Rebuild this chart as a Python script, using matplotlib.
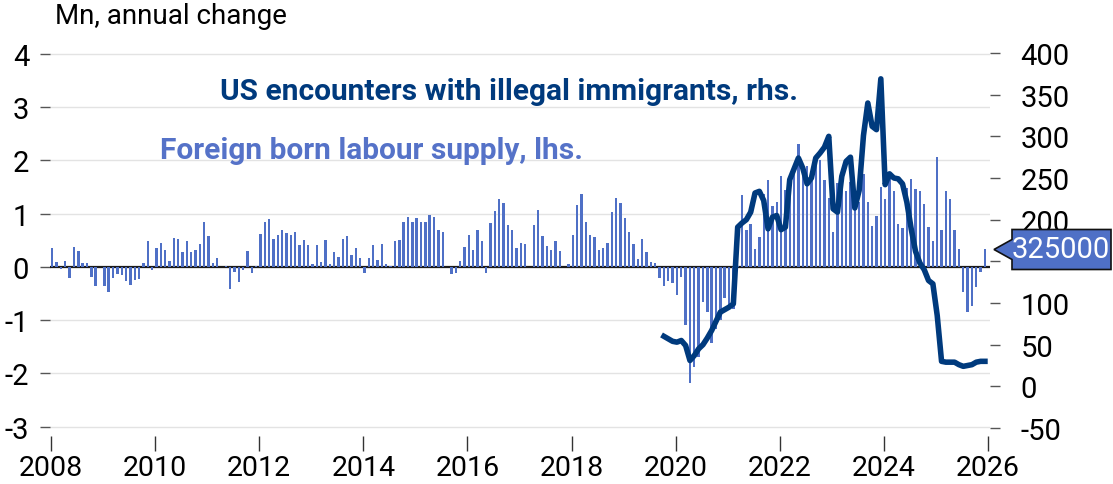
import matplotlib
matplotlib.use("Agg")
import matplotlib.pyplot as plt
from matplotlib.patches import Polygon
import numpy as np

plt.rcParams["font.family"] = ["Roboto", "DejaVu Sans"]

# foreign born labour supply, annual change in Mn, monthly Jan 2008 - Dec 2025
start_year = 2008
labour_supply = [
    0.36, 0.09, -0.04, 0.11, -0.21, 0.38, 0.30, 0.07, 0.08, -0.19, -0.36, -0.01,   # 2008
    -0.36, -0.47, -0.21, -0.14, -0.15, -0.26, -0.35, -0.24, -0.23, 0.08, 0.49, -0.06,  # 2009
    0.36, 0.45, 0.31, 0.11, 0.55, 0.53, 0.28, 0.48, 0.28, 0.31, 0.42, 0.85,   # 2010
    0.57, 0.08, 0.16, 0.00, 0.02, -0.41, -0.09, -0.28, -0.06, 0.30, -0.11, 0.02,  # 2011
    0.62, 0.84, 0.90, 0.52, 0.60, 0.70, 0.64, 0.60, 0.65, 0.40, 0.50, 0.40,   # 2012
    0.06, 0.40, 0.09, 0.50, 0.06, 0.28, 0.18, 0.52, 0.58, 0.22, 0.35, 0.16,   # 2013
    -0.12, 0.16, 0.40, 0.13, 0.42, 0.06, 0.01, 0.49, 0.51, 0.84, 0.94, 0.84,  # 2014
    0.92, 0.84, 0.84, 0.97, 0.93, 0.70, 0.65, 0.00, -0.13, -0.12, 0.11, 0.38,  # 2015
    0.59, 0.31, 0.69, 0.48, -0.11, 0.83, 1.04, 1.27, 1.20, 0.78, 0.70, 0.36,  # 2016
    0.45, 0.43, 0.00, 0.79, 1.06, 0.58, 0.39, 0.32, 0.48, 0.30, 0.00, 0.05,   # 2017
    0.60, 1.16, 1.37, 0.85, 0.59, 0.56, 0.31, 0.36, 0.45, 1.03, 1.30, 1.20,   # 2018
    0.91, 0.65, 0.43, 0.15, 0.53, 0.28, 0.09, 0.07, -0.21, -0.36, -0.27, -0.30,  # 2019
    -0.52, -0.19, -1.10, -2.18, -1.88, -1.70, -0.66, -0.85, -1.43, -1.16, -1.00, -0.58,  # 2020
    -0.77, -0.79, 0.02, 1.35, 0.69, 0.81, 0.34, 0.56, 1.37, 1.63, 1.15, 1.21,  # 2021
    1.70, 1.45, 1.35, 1.85, 2.30, 1.92, 1.90, 1.65, 2.05, 2.00, 1.63, 1.30,   # 2022
    0.66, 1.58, 1.67, 1.43, 1.60, 1.14, 1.21, 1.74, 1.21, 0.77, 0.95, 1.50,   # 2023
    1.28, 1.68, 1.43, 0.80, 0.72, 1.48, 1.65, 1.46, 1.43, 1.18, 0.74, 0.48,   # 2024
    2.06, 0.70, 1.42, 1.27, 0.70, 0.33, -0.48, -0.84, -0.73, -0.38, -0.09, 0.325,  # 2025
]

# US encounters with illegal immigrants, thousands, monthly Oct 2019 - Dec 2025
enc_start = 141  # months after Jan 2008
encounters = [
    60, 57, 54,                                                 # 2019
    53, 55, 49, 31, 37, 45, 50, 58, 67, 78, 89, 92,             # 2020
    95, 99, 191, 196, 200, 209, 232, 234, 223, 189, 203, 205,   # 2021
    188, 191, 248, 261, 274, 262, 243, 250, 274, 280, 287, 300, # 2022
    213, 209, 252, 270, 275, 214, 235, 301, 340, 312, 308, 369, # 2023
    242, 255, 250, 249, 243, 221, 189, 162, 148, 140, 127, 123, # 2024
    85, 30, 29, 29, 29, 26, 24, 25, 26, 29, 30, 30,             # 2025
]

last_label = "325000"
year_ticks = list(range(2008, 2027, 2))
left_ticks = list(range(-3, 5))
right_ticks = list(range(-50, 401, 50))
# the 150 label sits under the value tag in the original
right_labels = ["" if t == 150 else str(t) for t in right_ticks]

BAR = "#4f70c6"
NAVY = "#003a7d"

W, H = 1113, 485
fig = plt.figure(figsize=(W / 100, H / 100), dpi=100)
ax_l, ax_r, ax_t, ax_b = 50, 990, 48, 437
ax = fig.add_axes([ax_l / W, 1 - ax_b / H, (ax_r - ax_l) / W, (ax_b - ax_t) / H])
ax2 = ax.twinx()

x_bar = start_year + (np.arange(len(labour_supply)) + 0.3) / 12
x_enc = start_year + (np.arange(len(encounters)) + enc_start + 0.3) / 12

ax.bar(x_bar, labour_supply, width=0.55 / 12, color=BAR, zorder=3)
ax.axhline(0, color="#1a1a1a", lw=1.6, zorder=2)
ax2.plot(x_enc, encounters, color=NAVY, lw=4.0, solid_joinstyle="round", zorder=4)

ax.set_xlim(2007.981, 2026.039)
ax.set_ylim(-3.174, 4.124)
ax2.set_ylim(-59.6, 407.2)

ax.set_yticks(left_ticks)
ax.set_yticklabels([str(t) for t in left_ticks])
ax2.set_yticks(right_ticks)
ax2.set_yticklabels(right_labels)
ax.set_xticks(year_ticks)
ax.set_xticklabels([str(t) for t in year_ticks], fontsize=20.5)

ax.grid(axis="y", color="#e3e3e3", lw=1.0, zorder=0)
ax.set_axisbelow(True)
for a in (ax, ax2):
    for s in a.spines.values():
        s.set_visible(False)

ax.tick_params(axis="y", length=7, width=1, color="#555555", pad=8, labelsize=21)
ax2.tick_params(axis="y", length=7, width=1, color="#555555", pad=15, labelsize=21)
ax.tick_params(axis="x", length=11, width=1, color="#333333", pad=2)

fig.text(55 / W, 1 - 17 / H, "Mn, annual change", fontsize=20, va="center", ha="left")
fig.text(220 / W, 1 - 92 / H, "US encounters with illegal immigrants, rhs.",
         fontsize=21.5, fontweight="bold", color=NAVY, va="center", ha="left")
fig.text(160 / W, 1 - 151 / H, "Foreign born labour supply, lhs.",
         fontsize=21.5, fontweight="bold", color="#5572c8", va="center", ha="left")

# value tag for the latest bar, pointing at its height on the left scale
tip_y = H - ax.transData.transform((2026, labour_supply[-1]))[1]
tag = [(994, tip_y), (1012, tip_y - 10), (1012, tip_y - 20), (1111, tip_y - 20),
       (1111, tip_y + 20), (1012, tip_y + 20), (1012, tip_y + 10)]
fig.patches.append(Polygon([(x / W, 1 - y / H) for x, y in tag], closed=True,
                           transform=fig.transFigure, fc=BAR, ec="#111111", lw=1.2,
                           zorder=10))
fig.text(1061 / W, 1 - tip_y / H, last_label, fontsize=21, color="white",
         va="center", ha="center", zorder=11)

fig.savefig("out.png", dpi=100)
